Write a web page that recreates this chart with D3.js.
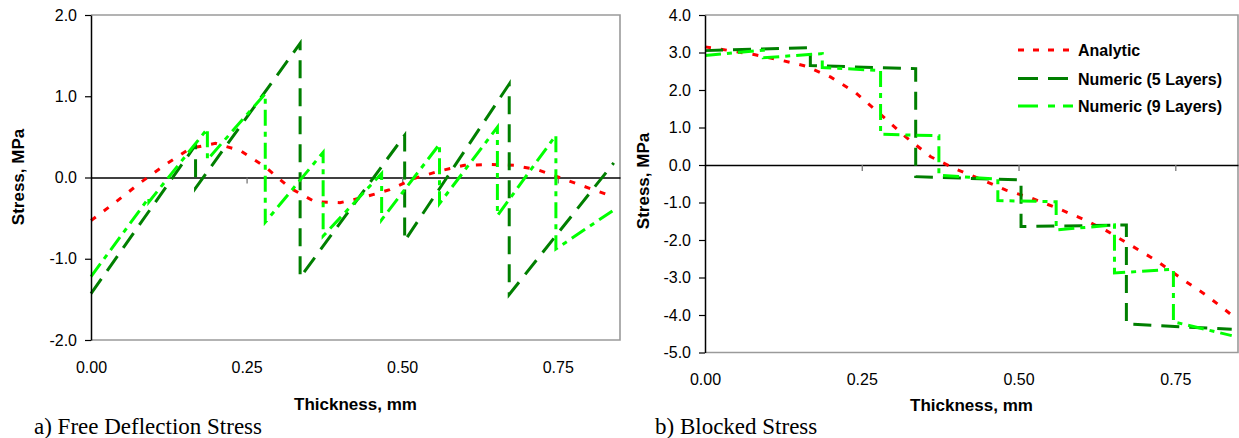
<!DOCTYPE html>
<html><head><meta charset="utf-8">
<script src="https://cdn.jsdelivr.net/npm/d3@7"></script>
<style>body{margin:0;background:#fff} svg{display:block}</style>
</head><body><svg id="c" width="1239" height="438"></svg>
<script>
// ---------- data ----------
const xTickValues = [0, 0.25, 0.5, 0.75];
const xTickLabels = ["0.00", "0.25", "0.50", "0.75"];
const seriesNames = ["Analytic", "Numeric (5 Layers)", "Numeric (9 Layers)"];

const fiveLayerBounds = [0, 0.168, 0.336, 0.504, 0.672, 0.84];
const nineLayerBounds = [0, 0.093, 0.187, 0.28, 0.373, 0.467, 0.56, 0.653, 0.747, 0.84];
const analyticThickness = [0, 0.04, 0.08, 0.12, 0.16, 0.20, 0.24, 0.28, 0.32, 0.36, 0.40,
                           0.44, 0.48, 0.52, 0.56, 0.60, 0.64, 0.68, 0.72, 0.76, 0.80, 0.84];

// a) Free Deflection Stress
const freeYTicks = [-2, -1, 0, 1, 2];
const freeAnalytic = [-0.53, -0.30, -0.06, 0.16, 0.36, 0.42, 0.33, 0.13, -0.13, -0.30, -0.31,
                      -0.24, -0.15, -0.01, 0.08, 0.15, 0.16, 0.15, 0.09, -0.02, -0.13, -0.24];
const freeFiveStart = [-1.43, -0.13, -1.23, -0.78, -1.44];
const freeFiveEnd   = [0.40, 1.65, 0.52, 1.15, 0.18];
const freeNineStart = [-1.22, -0.30, 0.22, -0.55, -0.72, -0.52, -0.32, -0.47, -0.88];
const freeNineEnd   = [-0.25, 0.60, 1.03, 0.31, 0.05, 0.41, 0.62, 0.52, -0.40];

// b) Blocked Stress
const blockedYTicks = [-5, -4, -3, -2, -1, 0, 1, 2, 3, 4];
const blockedAnalytic = [3.15, 3.05, 2.94, 2.80, 2.64, 2.35, 1.93, 1.35, 0.75, 0.22, -0.11,
                         -0.38, -0.67, -0.88, -1.14, -1.42, -1.75, -2.15, -2.55, -3.03, -3.48, -4.00];
const blockedFiveStart = [3.05, 2.65, -0.31, -1.64, -4.24];
const blockedFiveEnd   = [3.13, 2.57, -0.40, -1.60, -4.38];
const blockedNineStart = [2.92, 2.86, 2.60, 0.82, -0.27, -0.95, -1.73, -2.88, -4.18];
const blockedNineEnd   = [3.06, 2.97, 2.52, 0.78, -0.38, -0.98, -1.60, -2.78, -4.55];

// ---------- drawing ----------
const svg = d3.select("#c");
const SANS = "'Liberation Sans', Arial, sans-serif";
const colors = ["#ff0000", "#007f00", "#00ff00"];
const dashes = ["6,10", "18,10", "16,6,5,6"];
const legendDashes = ["6,9", "20,10", "20,10,7,8"];

function layerPoints(bounds, start, end) {
  return start.flatMap((s, i) => [[bounds[i], s], [bounds[i + 1], end[i]]]);
}

function drawPanel(cfg) {
  const g = svg.append("g");
  const x = d3.scaleLinear().domain([0, 0.85]).range([cfg.x0, cfg.x1]);
  const y = d3.scaleLinear().domain([cfg.yTicks[0], cfg.yTicks[cfg.yTicks.length - 1]]).range([cfg.y1, cfg.y0]);

  // frame (top, right, bottom)
  g.append("path")
    .attr("d", `M${cfg.x0},${cfg.y0}H${cfg.x1}V${cfg.y1}H${cfg.x0}`)
    .attr("fill", "none").attr("stroke", "#9a9a9a").attr("stroke-width", 1.6);

  // series
  const line = d3.line().x(d => x(d[0])).y(d => y(d[1]));
  const series = [
    analyticThickness.map((t, i) => [t, cfg.analytic[i]]),
    layerPoints(fiveLayerBounds, cfg.fiveStart, cfg.fiveEnd),
    layerPoints(nineLayerBounds, cfg.nineStart, cfg.nineEnd)
  ];

  // zero line with ticks
  const zeroAxis = g.append("g").attr("transform", `translate(0,${y(0)})`)
    .call(d3.axisBottom(x).tickValues(xTickValues.slice(1)).tickSize(6).tickSizeOuter(0).tickFormat(""));
  zeroAxis.select(".domain").attr("stroke", "#000").attr("stroke-width", 1.3);
  zeroAxis.selectAll(".tick line").attr("stroke", "#777").attr("stroke-width", 1.3);

  series.forEach((s, i) => {
    g.append("path").datum(s).attr("d", line)
      .attr("fill", "none").attr("stroke", colors[i])
      .attr("stroke-width", 3).attr("stroke-dasharray", dashes[i]);
  });

  // y axis
  const ya = g.append("g").attr("transform", `translate(${cfg.x0},0)`)
    .call(d3.axisLeft(y).tickValues(cfg.yTicks).tickSize(6).tickSizeOuter(0).tickPadding(8)
      .tickFormat(d => d.toFixed(1)));
  ya.select(".domain").attr("stroke", "#000").attr("stroke-width", 1.5);
  ya.selectAll(".tick line").attr("stroke", "#000").attr("stroke-width", 1.2);
  ya.selectAll("text").attr("font-family", SANS).attr("font-size", 16).attr("fill", "#000");

  // x tick labels at bottom
  const xa = g.append("g").attr("transform", `translate(0,${cfg.y1})`)
    .call(d3.axisBottom(x).tickValues(xTickValues).tickSize(0).tickPadding(cfg.xLabelPad)
      .tickFormat((d, i) => xTickLabels[i]));
  xa.select(".domain").remove();
  xa.selectAll("text").attr("font-family", SANS).attr("font-size", 16).attr("fill", "#000");

  // axis titles
  g.append("text").attr("x", (cfg.x0 + cfg.x1) / 2).attr("y", cfg.xTitleY)
    .attr("text-anchor", "middle").attr("font-family", SANS).attr("font-weight", "bold")
    .attr("font-size", 17).text("Thickness, mm");
  g.append("text").attr("transform", `translate(${cfg.yTitleX},${cfg.yTitleY}) rotate(-90)`)
    .attr("text-anchor", "middle").attr("font-family", SANS).attr("font-weight", "bold")
    .attr("font-size", 17).text("Stress, MPa");

  // caption
  g.append("text").attr("x", cfg.capX).attr("y", 434)
    .attr("font-family", "'Liberation Serif', 'Times New Roman', serif").attr("font-size", 23)
    .text(cfg.caption);

  if (cfg.legend) {
    const lg = g.append("g");
    seriesNames.forEach((name, i) => {
      const ly = cfg.legendY[i];
      lg.append("line").attr("x1", cfg.legendX).attr("x2", cfg.legendX + 55)
        .attr("y1", ly).attr("y2", ly).attr("stroke", colors[i]).attr("stroke-width", 3)
        .attr("stroke-dasharray", legendDashes[i]);
      lg.append("text").attr("x", cfg.legendX + 60).attr("y", ly + 6)
        .attr("font-family", SANS).attr("font-weight", "bold").attr("font-size", 16).text(name);
    });
  }
}

drawPanel({
  x0: 91, x1: 620, y0: 15, y1: 340, yTicks: freeYTicks,
  analytic: freeAnalytic, fiveStart: freeFiveStart, fiveEnd: freeFiveEnd,
  nineStart: freeNineStart, nineEnd: freeNineEnd,
  xLabelPad: 22, xTitleY: 410, yTitleX: 24, yTitleY: 177,
  caption: "a) Free Deflection Stress", capX: 34, legend: false
});
drawPanel({
  x0: 705, x1: 1238, y0: 15, y1: 352.5, yTicks: blockedYTicks,
  analytic: blockedAnalytic, fiveStart: blockedFiveStart, fiveEnd: blockedFiveEnd,
  nineStart: blockedNineStart, nineEnd: blockedNineEnd,
  xLabelPad: 21, xTitleY: 411, yTitleX: 649, yTitleY: 181,
  caption: "b) Blocked Stress", capX: 655, legend: true,
  legendX: 1018, legendY: [50, 78.5, 106]
});
</script></body></html>
